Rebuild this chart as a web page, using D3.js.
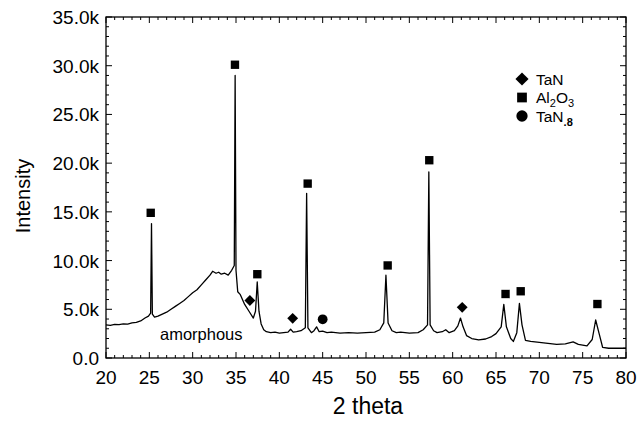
<!DOCTYPE html>
<html>
<head>
<meta charset="utf-8">
<script src="https://cdn.jsdelivr.net/npm/d3@7"></script>
<style>
  body { margin: 0; background: #fff; }
  svg { display: block; }
  text { font-family: "Liberation Sans", Arial, sans-serif; fill: #000; }
</style>
</head>
<body>
<svg id="chart" width="644" height="429"></svg>
<script>
// ---- data ----
const twoTheta = [
  20.0, 20.5, 21.0, 21.5, 22.0, 22.5, 23.0, 23.5, 24.0, 24.5, 24.9, 25.15, 25.25, 25.35, 25.6,
  26.0, 26.5, 27.0, 27.5, 28.0, 28.5, 29.0, 29.5, 30.0, 30.5, 31.0, 31.5, 32.0, 32.3, 32.7,
  33.0, 33.3, 33.7, 34.1, 34.5, 34.8, 34.9, 35.0, 35.2, 35.5, 36.0, 36.5, 37.0, 37.25, 37.45,
  37.65, 37.9, 38.2, 38.5, 39.0, 39.5, 40.0, 40.5, 41.0, 41.3, 41.6, 42.0, 42.5, 43.0, 43.15,
  43.3, 43.7, 44.0, 44.3, 44.6, 45.0, 45.5, 46.0, 47.0, 48.0, 49.0, 50.0, 51.0, 51.6, 52.05,
  52.3, 52.55, 53.0, 53.5, 54.0, 55.0, 56.0, 56.6, 57.1, 57.25, 57.4, 57.8, 58.2, 58.8, 59.2,
  59.6, 60.2, 60.6, 60.9, 61.2, 61.6, 62.2, 63.0, 63.8, 64.5, 65.0, 65.6, 65.9, 66.2, 66.7,
  67.0, 67.4, 67.7, 68.0, 68.4, 69.0, 70.0, 71.0, 72.0, 73.0, 73.9, 74.5, 75.5, 76.1, 76.5,
  76.9, 77.3, 78.0, 79.0, 80.0
];
const intensity = [
  3400, 3350, 3450, 3420, 3500, 3480, 3600, 3650, 3800, 4100, 4300, 4600, 13800, 4500, 4200,
  4300, 4500, 4700, 5000, 5300, 5600, 5900, 6300, 6700, 7000, 7500, 8000, 8500, 8900, 8700,
  8800, 8600, 8700, 8500, 9000, 9500, 29000, 9000, 6800, 6500, 5500, 4800, 4100, 4800, 7800,
  4800, 3500, 2900, 2700, 2600, 2650, 2550, 2600, 2650, 2950, 2650, 2700, 2800, 3100, 16900,
  3100, 2600, 2800, 3200, 2700, 2750, 2600, 2650, 2550, 2600, 2550, 2600, 2650, 2900, 3600,
  8500, 3600, 2800, 2600, 2650, 2550, 2600, 2900, 3400, 19100, 3400, 2800, 2600, 2700, 2900,
  2600, 2800, 3300, 4100, 3200, 2300, 2000, 1850, 1950, 2200, 2500, 3200, 5500, 3200, 2000,
  1700, 2600, 5600, 3400, 1800, 1700, 1600, 1500, 1400, 1450, 1650, 1400, 1250, 1900, 3900,
  2500, 1100, 1000, 1000, 1000
];
// phase markers on the pattern
const markerX    = [25.16, 34.88, 37.46, 36.6, 41.54, 43.27, 45.0, 52.5, 57.3, 61.1, 66.1, 67.85, 76.7];
const markerY    = [14900, 30100, 8600, 5900, 4070, 17900, 3970, 9500, 20300, 5200, 6570, 6850, 5540];
const markerType = ["Al2O3", "Al2O3", "Al2O3", "TaN", "TaN", "Al2O3", "TaN.8", "Al2O3", "Al2O3", "TaN", "Al2O3", "Al2O3", "Al2O3"];
// legend
const legendKeys = ["TaN", "Al2O3", "TaN.8"];
// axes
const xTicks = [20, 25, 30, 35, 40, 45, 50, 55, 60, 65, 70, 75, 80];
const yTicks = [0, 5000, 10000, 15000, 20000, 25000, 30000, 35000];
const yTickLabels = ["0.0", "5.0k", "10.0k", "15.0k", "20.0k", "25.0k", "30.0k", "35.0k"];
const xTitle = "2 theta";
const yTitle = "Intensity";
const annotation = "amorphous";

// ---- layout ----
const svg = d3.select("#chart");
const L = 106, R = 626, T = 17, B = 358;
const x = d3.scaleLinear().domain([20, 80]).range([L, R]);
const y = d3.scaleLinear().domain([0, 35000]).range([B, T]);

// frame
svg.append("rect").attr("x", L).attr("y", T).attr("width", R - L).attr("height", B - T)
  .attr("fill", "none").attr("stroke", "#000").attr("stroke-width", 1.3);

// ticks (inward, all four sides)
const xMinor = d3.range(20, 81, 1);
const yMinor = d3.range(0, 35001, 1000);
function tickLen(v, majors) { return majors.includes(v) ? 6 : 3; }
const g = svg.append("g").attr("stroke", "#000").attr("stroke-width", 1);
xMinor.forEach(v => {
  const l = tickLen(v, xTicks);
  g.append("line").attr("x1", x(v)).attr("x2", x(v)).attr("y1", B).attr("y2", B - l);
  g.append("line").attr("x1", x(v)).attr("x2", x(v)).attr("y1", T).attr("y2", T + l);
});
yMinor.forEach(v => {
  const l = tickLen(v, yTicks);
  g.append("line").attr("x1", L).attr("x2", L + l).attr("y1", y(v)).attr("y2", y(v));
  g.append("line").attr("x1", R).attr("x2", R - l).attr("y1", y(v)).attr("y2", y(v));
});

// tick labels
svg.append("g").selectAll("text").data(xTicks).join("text")
  .attr("x", d => x(d)).attr("y", 384).attr("text-anchor", "middle")
  .attr("font-size", 19).text(d => d);
svg.append("g").selectAll("text").data(yTicks).join("text")
  .attr("x", 99).attr("y", d => y(d) + 7).attr("text-anchor", "end")
  .attr("font-size", 19).text((d, i) => yTickLabels[i]);

// axis titles
svg.append("text").attr("x", 368).attr("y", 414).attr("text-anchor", "middle")
  .attr("font-size", 23).text(xTitle);
svg.append("text").attr("transform", "translate(30,196) rotate(-90)")
  .attr("text-anchor", "middle").attr("font-size", 20).text(yTitle);

// pattern line
const pts = twoTheta.map((t, i) => [t, intensity[i]]);
svg.append("path").datum(pts)
  .attr("fill", "none").attr("stroke", "#000").attr("stroke-width", 1.3)
  .attr("stroke-linejoin", "round")
  .attr("d", d3.line().x(d => x(d[0])).y(d => y(d[1])));

// markers
const sym = {
  "TaN": d3.symbol().type(d3.symbolDiamond2).size(75),
  "Al2O3": d3.symbol().type(d3.symbolSquare).size(70),
  "TaN.8": d3.symbol().type(d3.symbolCircle).size(75)
};
const legendSym = {
  "TaN": d3.symbol().type(d3.symbolDiamond2).size(110),
  "Al2O3": d3.symbol().type(d3.symbolSquare).size(95),
  "TaN.8": d3.symbol().type(d3.symbolCircle).size(100)
};
svg.append("g").selectAll("path").data(markerX).join("path")
  .attr("transform", (d, i) => `translate(${x(d)},${y(markerY[i])})`)
  .attr("d", (d, i) => sym[markerType[i]]())
  .attr("fill", "#000");

// annotation
svg.append("text").attr("x", 160).attr("y", 340).attr("font-size", 16.5).text(annotation);

// legend
const lg = svg.append("g");
legendKeys.forEach((k, i) => {
  const yy = 79 + i * 18.5;
  lg.append("path").attr("transform", `translate(522,${yy})`).attr("d", legendSym[k]()).attr("fill", "#000");
  const t = lg.append("text").attr("x", 536).attr("y", yy + 5.5).attr("font-size", 15.5);
  if (k === "TaN") {
    t.text("TaN");
  } else if (k === "Al2O3") {
    t.append("tspan").text("Al");
    t.append("tspan").attr("dy", 4).attr("font-size", 11).text("2");
    t.append("tspan").attr("dy", -4).text("O");
    t.append("tspan").attr("dy", 4).attr("font-size", 11).text("3");
  } else {
    t.append("tspan").text("TaN");
    t.append("tspan").attr("dy", 4).attr("font-size", 11).attr("font-weight", "bold").text(".8");
  }
});
</script>
</body>
</html>
